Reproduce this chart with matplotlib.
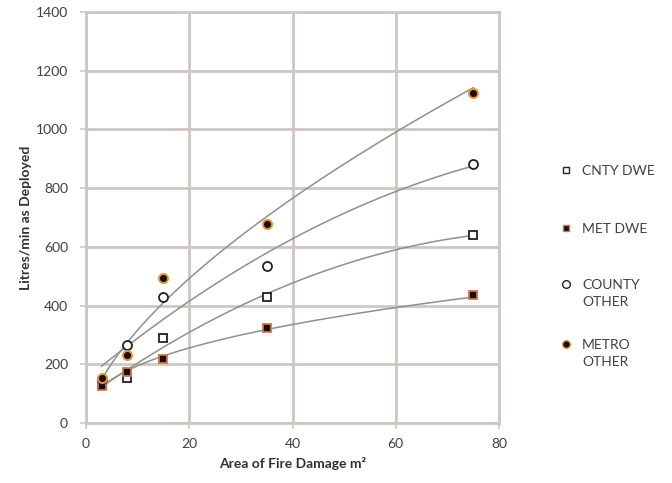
import numpy as np
import matplotlib
matplotlib.use("Agg")
import matplotlib.pyplot as plt
from matplotlib.lines import Line2D

plt.rcParams['font.family'] = ['Lato', 'DejaVu Sans']

# Data
area = [3, 8, 15, 35, 75]
cnty_dwe = [130, 152, 290, 430, 640]
met_dwe = [126, 174, 219, 325, 435]
county_other = [150, 267, 430, 535, 882]
metro_other = [152, 232, 495, 678, 1125]

series_names = ["CNTY DWE", "MET DWE", "COUNTY\nOTHER", "METRO\nOTHER"]
series_values = [cnty_dwe, met_dwe, county_other, metro_other]
trend_kinds = ["poly2", "power", "poly2", "power"]

x_ticks = [0, 20, 40, 60, 80]
y_ticks = [0, 200, 400, 600, 800, 1000, 1200, 1400]

styles = [
    dict(marker='s', ms=5.5, mfc='white', mec='#222222', mew=1.3),
    dict(marker='s', ms=5.5, mfc='#111111', mec='#d8704a', mew=1.3),
    dict(marker='o', ms=6.5, mfc='white', mec='#222222', mew=1.3),
    dict(marker='o', ms=6.5, mfc='#111111', mec='#ee9030', mew=1.4),
]

fig = plt.figure(figsize=(6.72, 4.83), dpi=100)
ax = fig.add_axes([0.128, 0.1242, 0.6146, 0.851])

grid_c = '#cfc6c2'
x = np.array(area, dtype=float)
xs = np.linspace(x.min(), x.max(), 200)
for vals, kind in zip(series_values, trend_kinds):
    y = np.array(vals, dtype=float)
    if kind == "power":
        b, lna = np.polyfit(np.log(x), np.log(y), 1)
        ys = np.exp(lna) * xs ** b
    else:
        c = np.polyfit(x, y, 2)
        ys = np.polyval(c, xs)
    ax.plot(xs, ys, color='#8f8f8f', lw=1.1, zorder=2)

for vals, st in zip(series_values, styles):
    ax.plot(area, vals, ls='none', zorder=3, **st)

ax.set_xlim(0, 80)
ax.set_ylim(0, 1400)
ax.set_xticks(x_ticks)
ax.set_yticks(y_ticks)
ax.grid(True, color=grid_c, lw=2)
ax.set_axisbelow(True)
for s in ax.spines.values():
    s.set_color(grid_c)
    s.set_linewidth(2)
ax.tick_params(axis='both', colors=grid_c, length=4, width=1.2, labelcolor='#404040',
               labelsize=10)
ax.tick_params(axis='y', pad=9)
ax.tick_params(axis='x', pad=7)
ax.set_xlabel("Area of Fire Damage m²", fontsize=10, fontweight='bold', color='#303030', labelpad=5)
ax.set_ylabel("Litres/min as Deployed", fontsize=10, fontweight='bold', color='#303030', labelpad=3)

# Legend (manual layout)
W, H = 672, 483
leg_y = [170, 228, 284, 344]
for st, name, yy in zip(styles, series_names, leg_y):
    fig.add_artist(Line2D([566 / W], [1 - yy / H], transform=fig.transFigure, ls='none',
                          marker=st['marker'], ms=st['ms'] * 0.85, mfc=st['mfc'],
                          mec=st['mec'], mew=1.0))
    fig.text(582 / W, 1 - (yy - 5) / H, name, fontsize=10, color='#404040',
             va='top', ha='left', linespacing=1.55)

fig.savefig("out.png", dpi=100)
